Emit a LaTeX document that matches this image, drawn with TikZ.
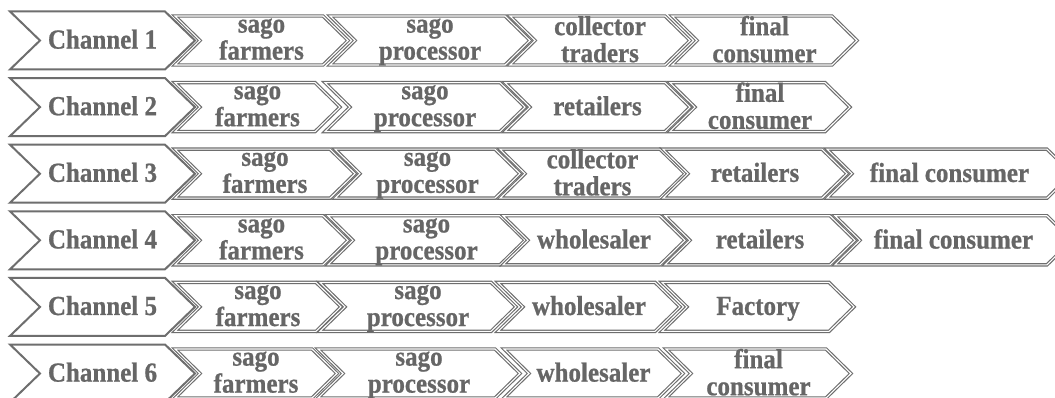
\documentclass[tikz,border=0pt]{standalone}
\usepackage{fontspec}
\setmainfont{Liberation Serif}
\newfontfamily\lblfont[FakeStretch=0.91,BoldFeatures={FakeBold=0.8}]{Liberation Serif}
\definecolor{edge}{HTML}{6E6E6E}
\definecolor{ink}{HTML}{666666}
\tikzset{
  chanshape/.style={draw=edge, line width=2pt, fill=white, line join=miter},
  stepshape/.style={draw=edge, line width=1.15pt, double=white, double distance=1.1pt, line join=miter},
  lbl/.style={text=ink, font=\lblfont\fontsize{27.5}{27}\selectfont\bfseries, align=center,
    inner sep=0pt, execute at begin node=\strut, execute at end node=\strut},
}
% channel chevron: name, centre y, text
\newcommand{\chanbox}[3]{%
  \draw[chanshape] (10,#2-29) -- (165,#2-29) -- (195,#2) -- (165,#2+29)
    -- (10,#2+29) -- (40,#2) -- cycle;
  \node[lbl] (#1) at (102.5,#2+2.6) {#3};
}
% step chevron: name, left x, top-right x, centre y, text
\newcommand{\stepbox}[5]{%
  \draw[stepshape] (#2,#4-24.5) -- (#3,#4-24.5) -- (#3+25,#4) -- (#3,#4+24.5)
    -- (#2,#4+24.5) -- (#2+25,#4) -- cycle;
  \node[lbl] (#1) at ({(#2+#3+25)/2},#4+2.6) {#5};
}
\begin{document}
\begin{tikzpicture}[x=1pt,y=-1pt]
  \useasboundingbox (0,0) rectangle (1055,398);
  \fill[white] (0,0) rectangle (1055,398);
  \clip (0,0) rectangle (1055,398);

  % Channel 1
  \chanbox{c1}{40.5}{Channel 1}
  \stepbox{c1a}{175}{323}{40.5}{sago\\farmers}
  \stepbox{c1b}{330}{505}{40.5}{sago\\processor}
  \stepbox{c1c}{510}{665}{40.5}{collector\\traders}
  \stepbox{c1d}{672}{832}{40.5}{final\\consumer}

  % Channel 2
  \chanbox{c2}{107.1}{Channel 2}
  \stepbox{c2a}{175}{315}{107.1}{sago\\farmers}
  \stepbox{c2b}{325}{500}{107.1}{sago\\processor}
  \stepbox{c2c}{505}{665}{107.1}{retailers}
  \stepbox{c2d}{670}{825}{107.1}{final\\consumer}

  % Channel 3
  \chanbox{c3}{173.7}{Channel 3}
  \stepbox{c3a}{175}{330}{173.7}{sago\\farmers}
  \stepbox{c3b}{335}{495}{173.7}{sago\\processor}
  \stepbox{c3c}{500}{660}{173.7}{collector\\traders}
  \stepbox{c3d}{663}{822}{173.7}{retailers}
  \stepbox{c3e}{827}{1047}{173.7}{final consumer}

  % Channel 4
  \chanbox{c4}{240.3}{Channel 4}
  \stepbox{c4a}{175}{323}{240.3}{sago\\farmers}
  \stepbox{c4b}{328}{500}{240.3}{sago\\processor}
  \stepbox{c4c}{503}{660}{240.3}{wholesaler}
  \stepbox{c4d}{665}{830}{240.3}{retailers}
  \stepbox{c4e}{835}{1047}{240.3}{final consumer}

  % Channel 5
  \chanbox{c5}{306.9}{Channel 5}
  \stepbox{c5a}{175}{316}{306.9}{sago\\farmers}
  \stepbox{c5b}{320}{491}{306.9}{sago\\processor}
  \stepbox{c5c}{498}{655}{306.9}{wholesaler}
  \stepbox{c5d}{662}{829}{306.9}{Factory}

  % Channel 6
  \chanbox{c6}{373.5}{Channel 6}
  \stepbox{c6a}{175}{312}{373.5}{sago\\farmers}
  \stepbox{c6b}{318}{495}{373.5}{sago\\processor}
  \stepbox{c6c}{504}{658}{373.5}{wholesaler}
  \stepbox{c6d}{666}{826}{373.5}{final\\consumer}
\end{tikzpicture}
\end{document}
